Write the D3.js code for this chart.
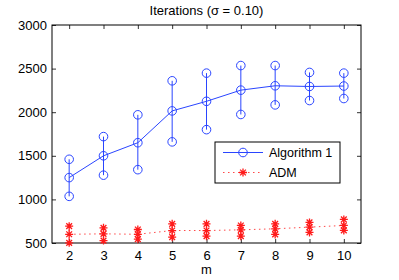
<!DOCTYPE html>
<html>
<head>
<meta charset="utf-8">
<script src="https://cdn.jsdelivr.net/npm/d3@7"></script>
<style>
  body { margin: 0; background: #fff; }
  text { font-family: "Liberation Sans", Arial, sans-serif; }
</style>
</head>
<body>
<script>
const mValues = [2, 3, 4, 5, 6, 7, 8, 9, 10];
const algMean = [1250, 1500, 1650, 2015, 2125, 2253, 2303, 2295, 2300];
const algUpper = [1460, 1720, 1970, 2360, 2448, 2535, 2535, 2456, 2448];
const algLower = [1035, 1278, 1341, 1660, 1800, 1974, 2084, 2134, 2157];
const admMean = [600, 605, 600, 643, 643, 651, 663, 682, 701];
const admUpper = [693, 674, 655, 720, 720, 701, 720, 736, 770];
const admLower = [502, 528, 544, 567, 578, 578, 598, 621, 644];
const yTicks = [500, 1000, 1500, 2000, 2500, 3000];
const title = "Iterations (\u03c3 = 0.10)";

const width = 399, height = 280;
const margin = {left: 52, right: 38, top: 25, bottom: 37};

const svg = d3.select("body").append("svg")
    .attr("width", width)
    .attr("height", height);

const x = d3.scaleLinear().domain([1.5, 10.5]).range([margin.left, width - margin.right]);
const y = d3.scaleLinear().domain([500, 3000]).range([height - margin.bottom, margin.top]);

const blue = "#2a45ff", red = "#ff1a1a";

// axes
svg.append("g")
    .attr("transform", `translate(0,${height - margin.bottom})`)
    .call(d3.axisBottom(x).tickValues(mValues).tickSize(-4).tickPadding(8).tickFormat(d3.format("d")))
    .call(g => g.select(".domain").remove());
svg.append("g")
    .attr("transform", `translate(0,${margin.top})`)
    .call(d3.axisTop(x).tickValues(mValues).tickSize(-4).tickFormat(""))
    .call(g => g.select(".domain").remove());
svg.append("g")
    .attr("transform", `translate(${margin.left},0)`)
    .call(d3.axisLeft(y).tickValues(yTicks).tickSize(-4).tickPadding(5).tickFormat(d3.format("d")))
    .call(g => g.select(".domain").remove());
svg.append("g")
    .attr("transform", `translate(${width - margin.right},0)`)
    .call(d3.axisRight(y).tickValues(yTicks).tickSize(-4).tickFormat(""))
    .call(g => g.select(".domain").remove());

svg.selectAll(".tick text")
    .style("font-size", "13px")
    .style("font-family", "Liberation Sans, Arial, sans-serif")
    .attr("fill", "#000");
svg.selectAll(".tick line").attr("stroke", "#333");

svg.append("rect")
    .attr("x", margin.left).attr("y", margin.top)
    .attr("width", width - margin.left - margin.right)
    .attr("height", height - margin.top - margin.bottom)
    .attr("fill", "none").attr("stroke", "#000").attr("stroke-width", 1);

// title and x label
svg.append("text")
    .attr("x", (margin.left + width - margin.right) / 2)
    .attr("y", 15)
    .attr("text-anchor", "middle")
    .style("font-size", "13px")
    .text(title);
svg.append("text")
    .attr("x", (margin.left + width - margin.right) / 2)
    .attr("y", 274)
    .attr("text-anchor", "middle")
    .style("font-size", "13px")
    .text("m");

function starPath(cx, cy, r) {
    const d = r * 0.72;
    return `M${cx - r},${cy}L${cx + r},${cy}M${cx},${cy - r}L${cx},${cy + r}` +
        `M${cx - d},${cy - d}L${cx + d},${cy + d}M${cx - d},${cy + d}L${cx + d},${cy - d}`;
}

// Algorithm 1
const alg = svg.append("g");
alg.selectAll(".ebar").data(mValues).enter().append("line")
    .attr("x1", d => x(d)).attr("x2", d => x(d))
    .attr("y1", (d, i) => y(algUpper[i])).attr("y2", (d, i) => y(algLower[i]))
    .attr("stroke", blue).attr("stroke-width", 1);
alg.append("path")
    .datum(mValues)
    .attr("d", d3.line().x(d => x(d)).y((d, i) => y(algMean[i])))
    .attr("fill", "none").attr("stroke", blue).attr("stroke-width", 1);
[algMean, algUpper, algLower].forEach(arr => {
    alg.selectAll(null).data(mValues).enter().append("circle")
        .attr("cx", d => x(d)).attr("cy", (d, i) => y(arr[i]))
        .attr("r", 4.3)
        .attr("fill", "none").attr("stroke", blue).attr("stroke-width", 1);
});

// ADM
const adm = svg.append("g");
adm.selectAll(".ebar").data(mValues).enter().append("line")
    .attr("x1", d => x(d)).attr("x2", d => x(d))
    .attr("y1", (d, i) => y(admUpper[i])).attr("y2", (d, i) => y(admLower[i]))
    .attr("stroke", red).attr("stroke-width", 1).attr("stroke-dasharray", "1,3");
adm.append("path")
    .datum(mValues)
    .attr("d", d3.line().x(d => x(d)).y((d, i) => y(admMean[i])))
    .attr("fill", "none").attr("stroke", red).attr("stroke-width", 1)
    .attr("stroke-dasharray", "1.5,3.5").attr("opacity", 0.8);
[admMean, admUpper, admLower].forEach(arr => {
    adm.selectAll(null).data(mValues).enter().append("path")
        .attr("d", (d, i) => starPath(x(d), y(arr[i]), 4))
        .attr("fill", "none").attr("stroke", red).attr("stroke-width", 1.3);
});

// legend
const lg = svg.append("g").attr("transform", "translate(215,142)");
lg.append("rect")
    .attr("width", 125).attr("height", 41)
    .attr("fill", "#fff").attr("stroke", "#000").attr("stroke-width", 1);
lg.append("line").attr("x1", 8).attr("x2", 48).attr("y1", 10.5).attr("y2", 10.5)
    .attr("stroke", blue);
lg.append("circle").attr("cx", 28).attr("cy", 10.5).attr("r", 4.3)
    .attr("fill", "none").attr("stroke", blue);
lg.append("text").attr("x", 54).attr("y", 15).style("font-size", "12.5px").text("Algorithm 1");
lg.append("line").attr("x1", 8).attr("x2", 48).attr("y1", 30.5).attr("y2", 30.5)
    .attr("stroke", red).attr("stroke-dasharray", "1.5,3.5").attr("opacity", 0.8);
lg.append("path").attr("d", starPath(28, 30.5, 4))
    .attr("fill", "none").attr("stroke", red).attr("stroke-width", 1.3);
lg.append("text").attr("x", 54).attr("y", 35).style("font-size", "12.5px").text("ADM");
</script>
</body>
</html>
